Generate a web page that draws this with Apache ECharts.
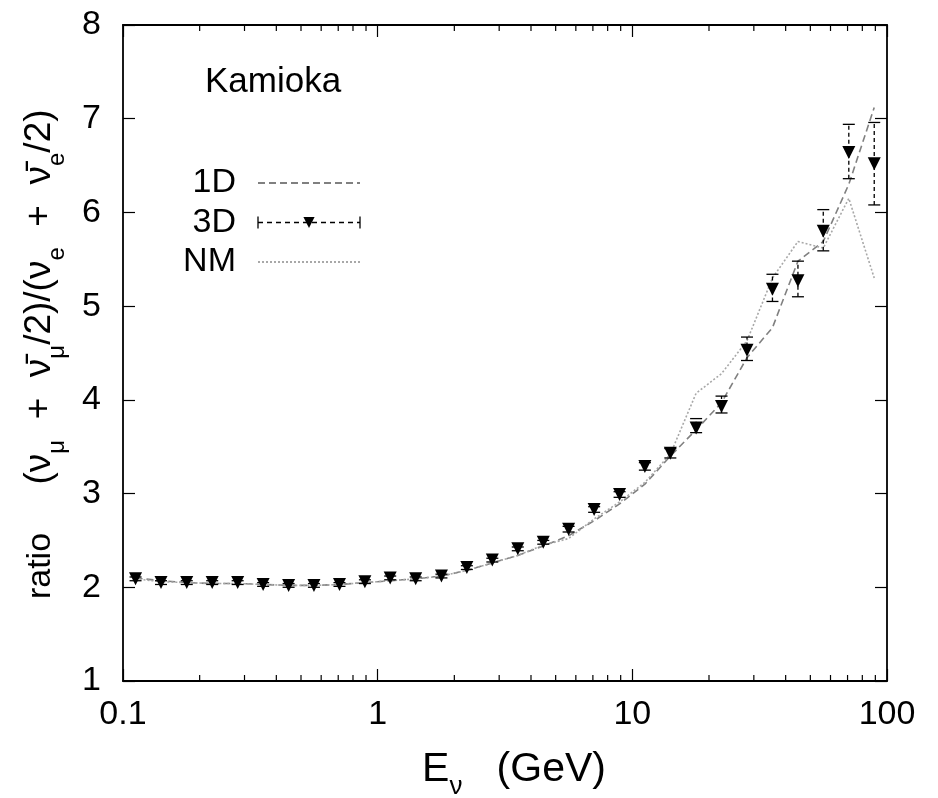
<!DOCTYPE html>
<html><head><meta charset="utf-8">
<script src="https://cdn.jsdelivr.net/npm/echarts@6/dist/echarts.min.js"></script>
<style>html,body{margin:0;padding:0;background:#fff}#c{width:938px;height:798px}</style>
</head><body><div id="c"></div>
<script>
// ---- data ----
const energies = [0.112,0.141,0.178,0.224,0.282,0.355,0.447,0.562,0.708,0.891,1.12,1.41,1.78,2.24,2.82,3.55,4.47,5.62,7.08,8.91,11.2,14.1,17.8,22.4,28.2,35.5,44.7,56.2,70.8,89.1];
const ratio3D = [2.09,2.05,2.05,2.05,2.05,2.03,2.02,2.02,2.03,2.06,2.10,2.09,2.12,2.21,2.29,2.41,2.48,2.62,2.83,2.99,3.29,3.43,3.70,3.93,4.53,5.18,5.27,5.80,6.64,6.52];
const err3DUp   = [0.02,0.02,0.02,0.02,0.02,0.02,0.02,0.02,0.02,0.02,0.02,0.02,0.02,0.02,0.02,0.02,0.02,0.03,0.03,0.03,0.04,0.05,0.10,0.11,0.14,0.16,0.21,0.23,0.30,0.44];
const err3DDown = [0.02,0.02,0.02,0.02,0.02,0.02,0.02,0.02,0.02,0.02,0.02,0.02,0.02,0.02,0.02,0.02,0.02,0.03,0.03,0.03,0.04,0.05,0.05,0.07,0.11,0.13,0.17,0.21,0.28,0.44];
const ratio1D = [2.10,2.07,2.05,2.04,2.04,2.03,2.02,2.02,2.03,2.05,2.07,2.09,2.12,2.18,2.26,2.34,2.44,2.55,2.71,2.89,3.10,3.40,3.68,3.97,4.45,4.77,5.48,5.69,6.30,7.12];
const ratioNM = [2.09,2.06,2.05,2.04,2.04,2.03,2.02,2.02,2.03,2.05,2.07,2.09,2.12,2.18,2.26,2.34,2.45,2.52,2.73,2.91,3.12,3.42,4.07,4.28,4.63,5.30,5.69,5.62,6.15,5.30];
const xTickLabels = ['0.1','1','10','100'];
const minorTickValues = [0.2,0.3,0.4,0.5,0.6,0.7,0.8,0.9,2,3,4,5,6,7,8,9,20,30,40,50,60,70,80,90];
const yMin = 1, yMax = 8;
const seriesNames = ['1D','3D','NM'];

const FONT = "'Liberation Sans', Arial, sans-serif";
const chart = echarts.init(document.getElementById('c'), null, {renderer:'canvas'});

const axisCommon = {
  axisLine:{show:true,lineStyle:{color:'#000',width:1.8}},
  axisTick:{show:true,inside:true,length:12,lineStyle:{color:'#000',width:1.2}},
  splitLine:{show:false}
};

// legend geometry
const LG = {left:180, top:166, textW:56, pad:17, iconW:102, rowH:30, gap:5.5};
const iconX0 = LG.left + LG.textW + LG.pad + 5;

const option = {
  backgroundColor:'#fff',
  animation:false,
  grid:{left:123,right:51,top:25,bottom:117},
  xAxis:[
    Object.assign({type:'log',logBase:10,min:0.1,max:100,position:'bottom',
      axisLabel:{fontSize:34,fontFamily:FONT,color:'#000',margin:17,
        formatter:v=>xTickLabels[Math.round(Math.log10(v))+1]}}, axisCommon),
    Object.assign({type:'log',logBase:10,min:0.1,max:100,position:'top',
      axisLabel:{show:false}}, axisCommon)
  ],
  yAxis:[
    Object.assign({type:'value',min:yMin,max:yMax,interval:1,position:'left',
      axisLabel:{fontSize:34,fontFamily:FONT,color:'#000',margin:22}}, axisCommon),
    Object.assign({type:'value',min:yMin,max:yMax,interval:1,position:'right',
      axisLabel:{show:false}}, axisCommon)
  ],
  legend:{
    orient:'vertical', left:LG.left, top:LG.top, align:'right',
    itemWidth:LG.iconW, itemHeight:14, itemGap:LG.gap, padding:0,
    selectedMode:false,
    textStyle:{fontSize:34,fontFamily:FONT,color:'#000',width:LG.textW,lineHeight:LG.rowH,padding:[0,LG.pad,0,0]},
    data:[
      {name:seriesNames[0], itemStyle:{opacity:0}},
      {name:seriesNames[1], lineStyle:{opacity:1,color:'#000',width:1.3,type:[5,4]}},
      {name:seriesNames[2], itemStyle:{opacity:0}}
    ]
  },
  graphic:[
    {type:'text', left:205, top:65, style:{text:'Kamioka', fontSize:35, fontFamily:FONT, fill:'#000'}},
    {type:'text', x:41, y:566, rotation:Math.PI/2,
      style:{text:'ratio', fontSize:34, fontFamily:FONT, fill:'#000', align:'center', verticalAlign:'middle'}},
    {type:'text', x:40, y:297, rotation:Math.PI/2,
      style:{text:'{b|(ν}{s|μ}{b|  +  ν̄}{s|μ}{b|/2)/(ν}{s|e}{b|  +  ν̄}{s|e}{b|/2)}',
        align:'center', verticalAlign:'middle', fill:'#000',
        rich:{b:{fontSize:37,fontFamily:FONT,lineHeight:58,fill:'#000'},
              s:{fontSize:24,fontFamily:FONT,lineHeight:24,verticalAlign:'bottom',fill:'#000'}}}},
    {type:'text', x:514, y:770,
      style:{text:'{e|E}{s|ν}{e|   (GeV)}', align:'center', verticalAlign:'middle', fill:'#000',
        rich:{e:{fontSize:41,fontFamily:FONT,lineHeight:60,fill:'#000'},
              s:{fontSize:26,fontFamily:FONT,lineHeight:26,verticalAlign:'bottom',fill:'#000'}}}}
  ],
  series:[
    {type:'custom', name:'minorTicks', silent:true, clip:false, z:1,
      data:minorTickValues.map(v=>[v,yMin]), encode:{x:0,y:1},
      renderItem:(p,api)=>{
        const x = api.value(0);
        const b = api.coord([x,yMin]), t = api.coord([x,yMax]);
        const st = {stroke:'#000',lineWidth:1.2};
        return {type:'group',children:[
          {type:'line',shape:{x1:b[0],y1:b[1],x2:b[0],y2:b[1]-6},style:st},
          {type:'line',shape:{x1:t[0],y1:t[1],x2:t[0],y2:t[1]+6},style:st}]};
      }},
    {type:'line', name:seriesNames[0], data:energies.map((e,i)=>[e,ratio1D[i]]),
      symbol:'none', z:3, lineStyle:{color:'#808080',width:1.6,type:[7,4]}, itemStyle:{color:'#808080'}},
    {type:'line', name:seriesNames[2], data:energies.map((e,i)=>[e,ratioNM[i]]),
      symbol:'none', z:3, lineStyle:{color:'#a8a8a8',width:1.6,type:[2,2]}, itemStyle:{color:'#a8a8a8'}},
    {type:'custom', name:'err3D', silent:true, z:4,
      data:energies.map((e,i)=>[e,ratio3D[i]-err3DDown[i],ratio3D[i]+err3DUp[i]]), encode:{x:0,y:[1,2]},
      renderItem:(p,api)=>{
        const x = api.value(0);
        const lo = api.coord([x,api.value(1)]), hi = api.coord([x,api.value(2)]);
        const w = 6, st = {stroke:'#000',lineWidth:1.3};
        return {type:'group',children:[
          {type:'line',shape:{x1:lo[0],y1:lo[1],x2:hi[0],y2:hi[1]},style:{stroke:'#000',lineWidth:1.3,lineDash:[4,3]}},
          {type:'line',shape:{x1:lo[0]-w,y1:lo[1],x2:lo[0]+w,y2:lo[1]},style:st},
          {type:'line',shape:{x1:hi[0]-w,y1:hi[1],x2:hi[0]+w,y2:hi[1]},style:st}]};
      }},
    {type:'line', name:seriesNames[1], data:energies.map((e,i)=>[e,ratio3D[i]]),
      symbol:'triangle', symbolRotate:180, symbolSize:13, showSymbol:true, z:5,
      itemStyle:{color:'#000'}, lineStyle:{opacity:0,color:'#000',width:1.3,type:[5,4]}}
  ]
};
chart.setOption(option);

// caps at the ends of the 3D legend sample, placed from the legend's own layout
const legendView = chart.getViewOfComponentModel(chart.getModel().getComponent('legend'));
let capY = null;
if (legendView && legendView.getContentGroup) {
  const grp = legendView.getContentGroup();
  const kids = grp.children();
  if (kids[1]) {
    const r = kids[1].getBoundingRect();
    capY = grp.y + legendView.group.y + kids[1].y + r.y + r.height/2;
  }
}
if (capY === null) capY = LG.top + LG.rowH + LG.gap + LG.rowH/2;
chart.setOption({graphic:[
  {type:'line', id:'cap1', shape:{x1:iconX0,y1:capY-6,x2:iconX0,y2:capY+6}, style:{stroke:'#000',lineWidth:1.3}},
  {type:'line', id:'cap2', shape:{x1:iconX0+LG.iconW,y1:capY-6,x2:iconX0+LG.iconW,y2:capY+6}, style:{stroke:'#000',lineWidth:1.3}}
]});
</script></body></html>
